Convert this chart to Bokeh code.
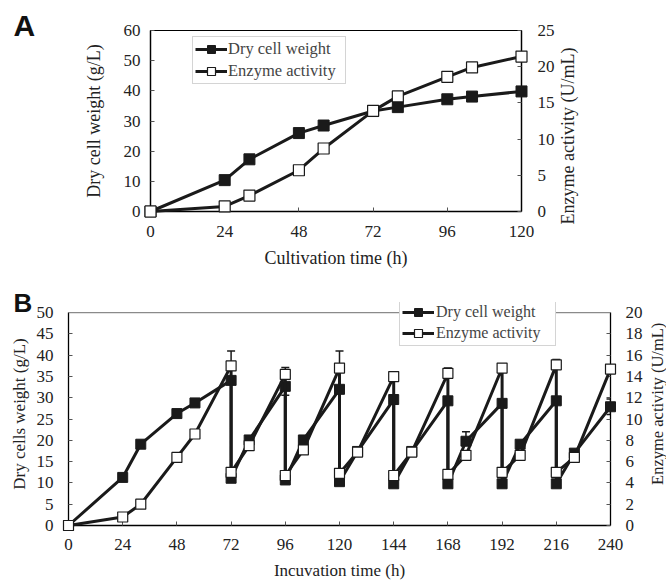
import math
from bokeh.plotting import figure
from bokeh.models import (Range1d, LinearAxis, Legend, LegendItem, FixedTicker,
                          ColumnDataSource, Whisker, TeeHead, Span)
from bokeh.core.properties import value
from bokeh.embed import file_html
from bokeh.resources import INLINE

# ---------------- data: panel A ----------------
timeA = [0, 24, 32, 48, 56, 72, 80, 96, 104, 120]
dcwA = [0, 10.4, 17.3, 26.0, 28.5, 33.3, 34.6, 37.2, 38.1, 39.8]
enzA = [0, 0.7, 2.2, 5.7, 8.7, 13.9, 15.9, 18.6, 19.9, 21.4]
xticksA = [0, 24, 48, 72, 96, 120]
yticksA = [0, 10, 20, 30, 40, 50, 60]
rticksA = [0, 5, 10, 15, 20, 25]

# ---------------- data: panel B ----------------
timeB = [0, 24, 32, 48, 56, 72, 72, 80, 96, 96, 104, 120, 120, 128, 144, 144, 152,
         168, 168, 176, 192, 192, 200, 216, 216, 224, 240]
dcwB = [0, 11.3, 19.1, 26.3, 28.8, 34.1, 11.1, 20.1, 32.7, 10.7, 20.1, 32.0, 10.3, 17.4,
        29.6, 9.8, 17.4, 29.3, 9.8, 19.8, 28.7, 9.8, 19.1, 29.3, 9.8, 17.0, 27.9]
enzB = [0, 0.8, 2.0, 6.4, 8.6, 15.0, 5.0, 7.5, 14.2, 4.7, 7.1, 14.8, 4.9, 6.9,
        14.0, 4.7, 6.9, 14.3, 4.8, 6.6, 14.8, 5.0, 6.6, 15.1, 5.0, 6.4, 14.7]
errB_dcw_t = [96, 176, 240]
errB_dcw_lo = [30.6, 19.8, 26.1]
errB_dcw_hi = [32.7, 22.0, 29.7]
errB_enz_t = [72, 96, 120, 168, 216]
errB_enz_lo = [15.0, 14.2, 14.8, 14.3, 15.1]
errB_enz_hi = [16.4, 14.85, 16.4, 14.8, 15.6]
xticksB = [0, 24, 48, 72, 96, 120, 144, 168, 192, 216, 240]
yticksB = [0, 5, 10, 15, 20, 25, 30, 35, 40, 45, 50]
rticksB = [0, 2, 4, 6, 8, 10, 12, 14, 16, 18, 20]

SERIF = "Liberation Serif"
SANS = "Liberation Sans"
INK = "#1a1a1a"


def style_axis(ax, ticks, fsize, lsize, standoff, lstandoff):
    ax.ticker = FixedTicker(ticks=ticks)
    ax.minor_tick_line_color = None
    ax.major_tick_in = 4
    ax.major_tick_out = 0
    ax.major_tick_line_color = "#555555"
    ax.axis_line_color = "black"
    ax.axis_line_width = 1.3
    ax.major_label_text_font = SERIF
    ax.major_label_text_font_size = f"{fsize}px"
    ax.major_label_text_color = "#222222"
    ax.major_label_standoff = standoff
    ax.axis_label_text_font = SERIF
    ax.axis_label_text_font_style = "normal"
    ax.axis_label_text_font_size = f"{lsize}px"
    ax.axis_label_text_color = "#222222"
    ax.axis_label_standoff = lstandoff


# ---------------- panel A ----------------
pA = figure(width=666, height=276, x_range=Range1d(0, 120), y_range=Range1d(0, 60),
            output_backend="svg", toolbar_location=None,
            min_border_left=150, min_border_top=30, min_border_right=145, min_border_bottom=65)
pA.extra_y_ranges = {"enz": Range1d(0, 25)}
pA.grid.visible = False
pA.outline_line_color = "black"
pA.outline_line_width = 1.2
style_axis(pA.xaxis[0], xticksA, 17, 18, 14, 8)
style_axis(pA.yaxis[0], yticksA, 17, 18, 10, 17)
pA.xaxis[0].axis_label = "Cultivation time (h)"
pA.yaxis[0].axis_label = "Dry cell weight (g/L)"
rA = LinearAxis(y_range_name="enz")
style_axis(rA, rticksA, 17, 18, 16, 3)
pA.add_layout(rA, "right")

lA1 = pA.line(timeA, dcwA, line_color=INK, line_width=3, level="overlay")
sA1 = pA.scatter(timeA, dcwA, marker="square", size=11, fill_color=INK,
                 line_color=INK, level="overlay")
lA2 = pA.line(timeA, enzA, line_color=INK, line_width=3, y_range_name="enz", level="overlay")
sA2 = pA.scatter(timeA, enzA, marker="square", size=11, fill_color="white",
                 line_color=INK, line_width=1.2, y_range_name="enz", level="overlay")

legA = Legend(items=[LegendItem(label="Dry cell weight", renderers=[lA1, sA1]),
                     LegendItem(label="Enzyme activity", renderers=[lA2, sA2])],
              location=(42, 127), label_text_font=SERIF, label_text_font_size="16.5px",
              glyph_width=32, glyph_height=20, label_height=20, label_width=115,
              label_standoff=1, spacing=2, padding=2, margin=0,
              border_line_color="#aaaaaa", border_line_width=1, background_fill_alpha=1)
pA.add_layout(legA, "center")
pA.text(x=[-44.3], y=[61.6], text=["A"], text_font=value(SANS), text_font_style="bold",
        text_font_size=value("30px"), text_color="#111111", text_align="left",
        text_baseline="alphabetic", level="overlay")
pA.text(x=[135.2], y=[25.0], text=["Enzyme activity (U/mL)"], angle=math.pi / 2,
        text_font=value(SERIF), text_font_size=value("18px"), text_color="#222222",
        text_align="center", text_baseline="middle", level="overlay")

# ---------------- panel B ----------------
pB = figure(width=666, height=306, x_range=Range1d(0, 240), y_range=Range1d(0, 52.4),
            output_backend="svg", toolbar_location=None,
            min_border_left=68, min_border_top=26, min_border_right=56, min_border_bottom=56)
pB.extra_y_ranges = {"enz": Range1d(0, 20.96)}
pB.grid.visible = False
pB.outline_line_color = None
style_axis(pB.xaxis[0], xticksB, 17, 17, 13, 8)
style_axis(pB.yaxis[0], yticksB, 17, 17, 15, 5)
pB.yaxis[0].bounds = (0, 50)
pB.xaxis[0].axis_label = "Incuvation time (h)"
pB.yaxis[0].axis_label = "Dry cells weight (g/L)"
rB = LinearAxis(y_range_name="enz", bounds=(0, 20))
style_axis(rB, rticksB, 17, 17, 15, 3)
pB.add_layout(rB, "right")

pB.add_layout(Span(location=50, dimension="width", line_color="#8a8a8a", line_width=1.2))

srcE1 = ColumnDataSource(dict(t=errB_dcw_t, lo=errB_dcw_lo, hi=errB_dcw_hi))
srcE2 = ColumnDataSource(dict(t=errB_enz_t, lo=errB_enz_lo, hi=errB_enz_hi))
pB.add_layout(Whisker(base="t", lower="lo", upper="hi", source=srcE1, dimension="height",
                      line_color=INK, line_width=1.5,
                      upper_head=TeeHead(size=8, line_color=INK, line_width=1.5),
                      lower_head=TeeHead(size=8, line_color=INK, line_width=1.5)))
pB.add_layout(Whisker(base="t", lower="lo", upper="hi", source=srcE2, dimension="height",
                      y_range_name="enz", line_color=INK, line_width=1.5,
                      upper_head=TeeHead(size=8, line_color=INK, line_width=1.5),
                      lower_head=TeeHead(size=8, line_color=INK, line_width=1.5)))

lB1 = pB.line(timeB, dcwB, line_color=INK, line_width=3, level="overlay")
sB1 = pB.scatter(timeB, dcwB, marker="square", size=10, fill_color=INK,
                 line_color=INK, level="overlay")
lB2 = pB.line(timeB, enzB, line_color=INK, line_width=3, y_range_name="enz", level="overlay")
sB2 = pB.scatter(timeB, enzB, marker="square", size=10, fill_color="white",
                 line_color=INK, line_width=1.2, y_range_name="enz", level="overlay")

legB = Legend(items=[LegendItem(label="Dry cell weight", renderers=[lB1, sB1]),
                     LegendItem(label="Enzyme activity", renderers=[lB2, sB2])],
              location=(331, 179), label_text_font=SERIF, label_text_font_size="16px",
              glyph_width=32, glyph_height=20, label_height=20, label_width=117,
              label_standoff=2, spacing=1, padding=2, margin=0,
              border_line_color="#aaaaaa", border_line_width=1, background_fill_alpha=1)
pB.add_layout(legB, "center")
pB.text(x=[-24.3], y=[52.4], text=["B"], text_font=value(SANS), text_font_style="bold",
        text_font_size=value("26px"), text_color="#111111", text_align="left",
        text_baseline="alphabetic", level="overlay")
pB.text(x=[260.7], y=[28.6], text=["Enzyme activity (U/mL)"], angle=math.pi / 2,
        text_font=value(SERIF), text_font_size=value("16.5px"), text_color="#222222",
        text_align="center", text_baseline="middle", level="overlay")

open("out.html", "w").write(file_html([pA, pB], INLINE))
